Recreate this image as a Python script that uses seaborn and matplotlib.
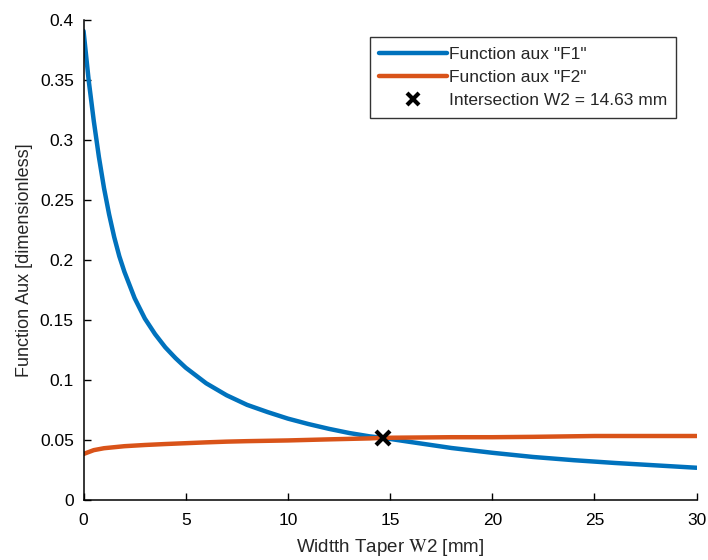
import numpy as np
import pandas as pd
import seaborn as sns
import matplotlib.pyplot as plt
from matplotlib.ticker import FuncFormatter

sns.set_style("ticks")
plt.rcParams.update({
    "font.family": ["Liberation Sans", "DejaVu Sans"],
    "mathtext.fontset": "stix",
    "xtick.direction": "in",
    "ytick.direction": "in",
})

# values
w2_f1 = [0, 0.25, 0.5, 0.75, 1, 1.25, 1.5, 1.75, 2, 2.5, 3, 3.5, 4, 4.5, 5, 6, 7, 8, 9, 10,
         11, 12, 13, 14, 14.63, 16, 18, 20, 22, 24, 26, 28, 30]
f1 = [0.391, 0.350, 0.316, 0.286, 0.260, 0.238, 0.219, 0.203, 0.190, 0.168, 0.151, 0.138,
      0.127, 0.118, 0.110, 0.097, 0.087, 0.079, 0.073, 0.0675,
      0.063, 0.059, 0.0555, 0.0527, 0.0515, 0.048, 0.043, 0.039, 0.0355, 0.0328, 0.0305,
      0.0285, 0.0265]

w2_f2 = [0, 0.5, 1, 2, 3, 4, 5, 6, 7, 8, 10, 12, 14, 14.63, 16, 18, 20, 22, 25, 30]
f2 = [0.038, 0.0412, 0.0428, 0.0445, 0.0455, 0.0463, 0.047, 0.0477, 0.0483, 0.0487,
      0.0493, 0.0502, 0.051, 0.0515, 0.0517, 0.052, 0.052, 0.0523, 0.053, 0.053]

x_int = [14.63]
y_int = [0.0515]

df = pd.concat([
    pd.DataFrame({"w2": w2_f1, "val": f1, "series": 'Function aux "F1"'}),
    pd.DataFrame({"w2": w2_f2, "val": f2, "series": 'Function aux "F2"'}),
])

fig, ax = plt.subplots(figsize=(7.08, 5.6), dpi=100)
fig.subplots_adjust(left=0.118, right=0.984, bottom=0.108, top=0.964)

sns.lineplot(data=df, x="w2", y="val", hue="series", ax=ax, sort=False,
             palette=["#0072BD", "#D95319"], linewidth=3.2, legend=False)
ax.plot(x_int, y_int, linestyle="none", marker="x", color="black",
        markersize=10, markeredgewidth=3, zorder=5)

ax.set_xlim(0, 30)
ax.set_ylim(0, 0.4)
ax.set_xticks(np.arange(0, 31, 5))
ax.set_yticks(np.arange(0, 0.401, 0.05))
ax.yaxis.set_major_formatter(FuncFormatter(lambda v, p: f"{v:g}"))
ax.tick_params(labelsize=12.5, length=5, width=1, colors="black")
ax.tick_params(axis="x", pad=10)
ax.tick_params(axis="y", pad=7)
sns.despine(ax=ax)
for s in ["left", "bottom"]:
    ax.spines[s].set_linewidth(1.1)
    ax.spines[s].set_color("black")

ax.set_xlabel(r"Widtth Taper $\mathrm{W}$2 [mm]", fontsize=13.5, color="#262626", labelpad=6)
ax.set_ylabel("Function Aux [dimensionless]", fontsize=13, color="#262626", labelpad=5)

handles = [
    plt.Line2D([], [], color="#0072BD", linewidth=3.2),
    plt.Line2D([], [], color="#D95319", linewidth=3.2),
    plt.Line2D([], [], linestyle="none", marker="x", color="black",
               markersize=8, markeredgewidth=3),
]
labels = ['Function aux "F1"', 'Function aux "F2"', "Intersection W2 = 14.63 mm"]
leg = ax.legend(handles, labels, loc="upper right", bbox_to_anchor=(0.967, 0.964),
                borderaxespad=0, fontsize=12.5, frameon=True, fancybox=False,
                handlelength=3.9, handletextpad=0.1, labelspacing=0.45, borderpad=0.55)
leg.get_frame().set_edgecolor("black")
leg.get_frame().set_linewidth(1.0)

plt.savefig("out.png", dpi=100)
